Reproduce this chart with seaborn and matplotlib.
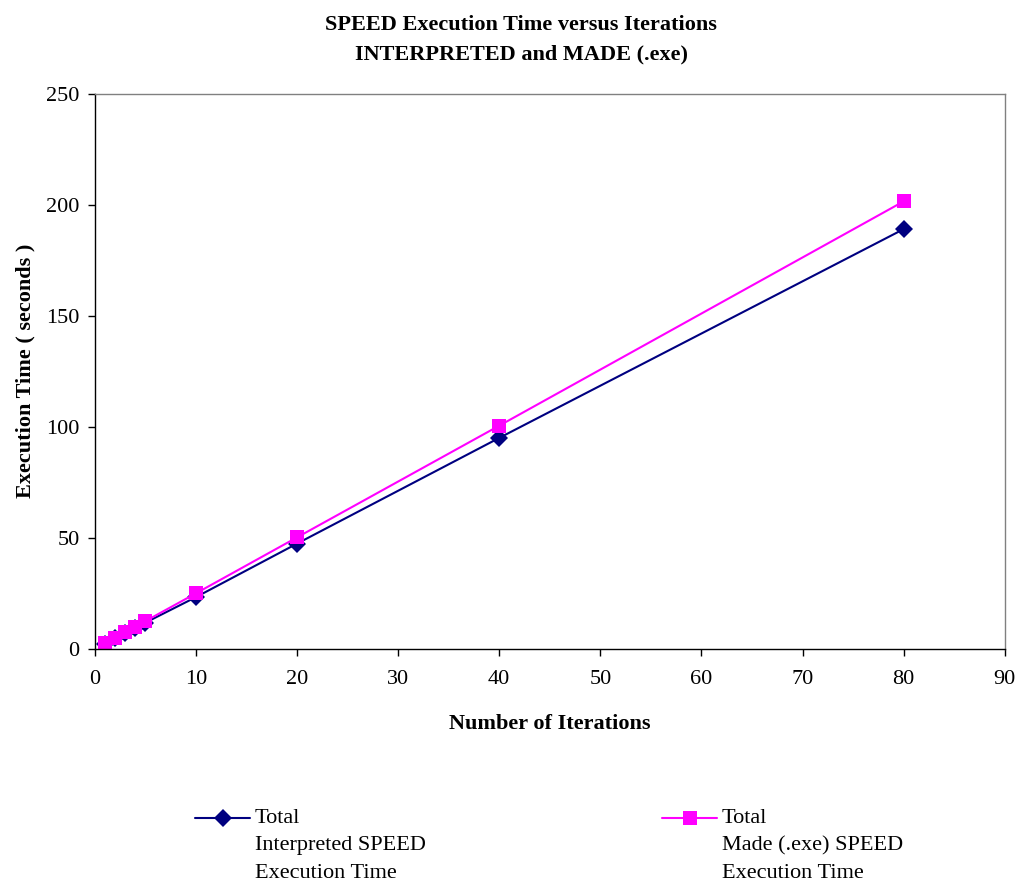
import matplotlib
matplotlib.use("Agg")
import matplotlib.pyplot as plt
from matplotlib.lines import Line2D
from matplotlib.legend_handler import HandlerLine2D
import seaborn as sns
import pandas as pd

iterations = [1, 2, 3, 4, 5, 10, 20, 40, 80]
interpreted_time = [2.4, 4.7, 7.1, 9.4, 11.8, 23.3, 47.4, 95.0, 189.0]
made_time = [2.5, 5.0, 7.5, 10.0, 12.5, 25.0, 50.2, 100.5, 201.5]
series_names = ["Total\nInterpreted SPEED\nExecution Time",
                "Total\nMade (.exe) SPEED\nExecution Time"]
x_ticks = [0, 10, 20, 30, 40, 50, 60, 70, 80, 90]
y_ticks = [0, 50, 100, 150, 200, 250]

df = pd.concat([
    pd.DataFrame({"Iterations": iterations, "Time": interpreted_time, "Series": series_names[0]}),
    pd.DataFrame({"Iterations": iterations, "Time": made_time, "Series": series_names[1]}),
])

sns.set_theme(style="white")
plt.rcParams["font.family"] = ["Liberation Serif", "DejaVu Serif"]
plt.rcParams.update({"text.color": "black", "axes.labelcolor": "black",
                     "xtick.color": "black", "ytick.color": "black"})

fig = plt.figure(figsize=(10.2, 8.84), dpi=100)
ax = fig.add_axes([0.093, 0.266, 0.892, 0.628])

palette = {series_names[0]: "#000080", series_names[1]: "#FF00FF"}
markers = {series_names[0]: "D", series_names[1]: "s"}
marker_sizes = {series_names[0]: 9, series_names[1]: 10}
sns.lineplot(data=df, x="Iterations", y="Time", hue="Series", style="Series",
             palette=palette, markers=markers, dashes=False, markersize=9,
             markeredgewidth=0, linewidth=1.5, ax=ax, legend=False)
for line, name in zip(ax.lines, series_names):
    line.set_markersize(marker_sizes[name])

ax.set_xlim(0, 90)
ax.set_ylim(0, 250)
ax.set_xticks(x_ticks)
ax.set_yticks(y_ticks)
ax.tick_params(axis="both", labelsize=16, direction="out", length=5, width=1,
               color="black", labelcolor="black", bottom=True, left=True)
ax.tick_params(axis="x", pad=10)
ax.tick_params(axis="y", pad=6)
for side in ["left", "bottom"]:
    ax.spines[side].set_color("black")
    ax.spines[side].set_linewidth(1)
for side in ["top", "right"]:
    ax.spines[side].set_color("#808080")
    ax.spines[side].set_linewidth(1)

ax.set_xlabel("Number of Iterations", fontsize=16, fontweight="bold", labelpad=18, color="black")
ax.set_ylabel("Execution Time ( seconds )", fontsize=16, fontweight="bold", labelpad=8, color="black")

fig.text(0.511, 1 - 15 / 884, "SPEED Execution Time versus Iterations\nINTERPRETED and MADE (.exe)",
         ha="center", va="top", fontsize=16, fontweight="bold", linespacing=1.6, color="black")


class FirstLineHandler(HandlerLine2D):
    """Line handler raised so it sits beside the first line of a multi-line label."""

    def __init__(self, shift_pts, **kw):
        super().__init__(**kw)
        self.shift_pts = shift_pts

    def create_artists(self, legend, orig_handle, xdescent, ydescent, width, height,
                       fontsize, trans):
        return super().create_artists(legend, orig_handle, xdescent,
                                      ydescent - 2 * self.shift_pts, width, height,
                                      fontsize, trans)


legend_fs = 16
handler = FirstLineHandler(shift_pts=27.5 * 72 / 100)
for name, x_anchor in zip(series_names, [195 / 1020, 662 / 1020]):
    h = Line2D([], [], color=palette[name], marker=markers[name],
               markersize=marker_sizes[name], markeredgewidth=0, linewidth=1.5)
    leg = fig.legend([h], [name], loc="upper left", bbox_to_anchor=(x_anchor, 1 - 809 / 884),
                     frameon=False, fontsize=legend_fs, handlelength=2.48, handletextpad=0.22,
                     borderpad=0, borderaxespad=0, handler_map={Line2D: handler})
    for t in leg.get_texts():
        t.set_linespacing(1.6)
        t.set_color("black")

fig.savefig("out.png", dpi=100)
